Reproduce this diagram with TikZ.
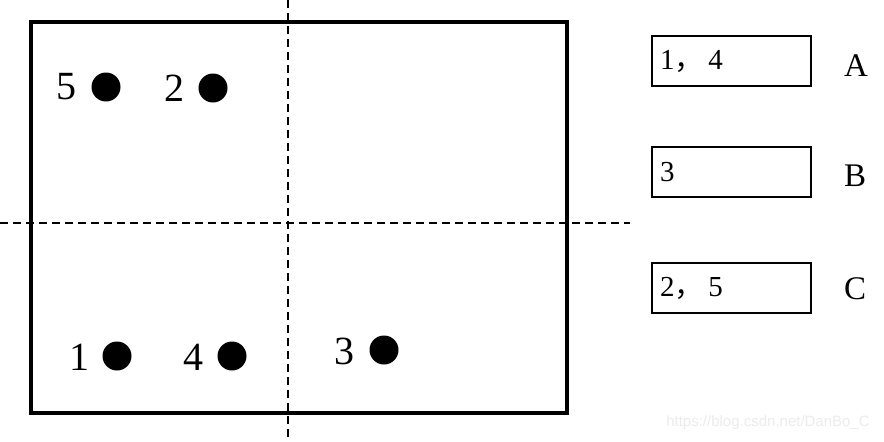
\documentclass[tikz,border=0pt]{standalone}
\usepackage{fontspec}
\setmainfont{Liberation Serif}
\newfontfamily\cjk{Noto Sans CJK SC}
\newfontfamily\wmfont{Liberation Sans}
\tikzset{
    dot/.style={circle, fill=black, inner sep=0pt, minimum size=29pt},
    pointlabel/.style={font=\fontsize{40}{40}\selectfont},
    groupbox/.style={draw, line width=2pt, minimum width=159pt, minimum height=50pt,
        text width=143pt, inner xsep=8pt, align=left, font=\fontsize{29}{29}\selectfont},
    grouplabel/.style={font=\fontsize{33}{33}\selectfont},
    cutline/.style={line width=2.2pt, dash pattern=on 8pt off 5pt}
}
\begin{document}
\begin{tikzpicture}[x=1pt, y=-1pt]
    \useasboundingbox (0,0) rectangle (884,442);

    \draw[line width=4pt] (31,22) rectangle (567,413);

    \coordinate (VTop) at (288,0);
    \coordinate (VBot) at (288,442);
    \coordinate (HLeft) at (0,223);
    \coordinate (HRight) at (630,223);
    \draw[cutline] (VTop) -- (VBot);
    \draw[cutline] (HLeft) -- (HRight);

    \node[dot] at (106,87)   (P5) {};
    \node[dot] at (213,88)   (P2) {};
    \node[dot] at (117,356)  (P1) {};
    \node[dot] at (232,356)  (P4) {};
    \node[dot] at (384,350)  (P3) {};

    \node[pointlabel] at (66,87)   (L5) {5};
    \node[pointlabel] at (174,88)  (L2) {2};
    \node[pointlabel] at (79,357)  (L1) {1};
    \node[pointlabel] at (193,357) (L4) {4};
    \node[pointlabel] at (344,351) (L3) {3};

    \node[groupbox] at (731.5,61)  (BoxA) {1{\cjk ，}\,4};
    \node[groupbox] at (731.5,172) (BoxB) {3};
    \node[groupbox] at (731.5,288) (BoxC) {2{\cjk ，}\,5};

    \node[grouplabel] at (856,66)  (A) {A};
    \node[grouplabel] at (855,176) (B) {B};
    \node[grouplabel] at (855,289) (C) {C};

    \node[font=\wmfont\fontsize{15}{15}\selectfont, text=black!8] at (768,423) (Mark) {https://blog.csdn.net/DanBo\_C};
\end{tikzpicture}
\end{document}
